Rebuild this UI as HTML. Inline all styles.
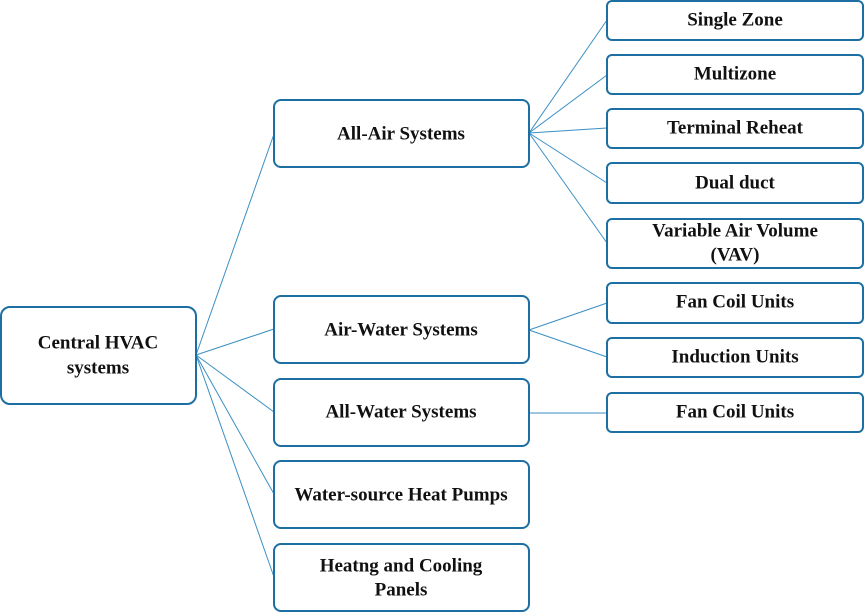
<!DOCTYPE html>
<html><head><meta charset="utf-8"><style>
html,body{margin:0;padding:0;background:#fff;width:864px;height:613px;overflow:hidden}
text{font-family:"Liberation Serif",serif;font-weight:bold;font-size:19px;fill:#111;text-anchor:middle;dominant-baseline:central}
rect{fill:#fff;stroke:#1d6fa3;stroke-width:2}
line{stroke:#3a8fc4;stroke-width:1}
</style></head><body>
<svg width="864" height="613" viewBox="0 0 864 613">
<g>
<line x1="196" y1="355" x2="274" y2="134"/>
<line x1="196" y1="355" x2="274" y2="329"/>
<line x1="196" y1="355" x2="274" y2="412"/>
<line x1="196" y1="355" x2="274" y2="494"/>
<line x1="196" y1="355" x2="274" y2="577"/>
<line x1="529" y1="133" x2="607" y2="20"/>
<line x1="529" y1="133" x2="607" y2="75"/>
<line x1="529" y1="133" x2="607" y2="128"/>
<line x1="529" y1="133" x2="607" y2="183"/>
<line x1="529" y1="133" x2="607" y2="243"/>
<line x1="529" y1="330" x2="607" y2="303"/>
<line x1="529" y1="330" x2="607" y2="357"/>
<line x1="529" y1="413" x2="607" y2="413"/>
</g>
<rect x="1" y="307" width="195" height="97" rx="9"/>
<text x="98" y="343">Central HVAC</text><text x="98" y="368">systems</text>
<rect x="274" y="100" width="255" height="67" rx="7"/><text x="401" y="134">All-Air Systems</text>
<rect x="274" y="296" width="255" height="67" rx="7"/><text x="401" y="330">Air-Water Systems</text>
<rect x="274" y="379" width="255" height="67" rx="7"/><text x="401" y="412">All-Water Systems</text>
<rect x="274" y="461" width="255" height="67" rx="7"/><text x="401" y="495">Water-source Heat Pumps</text>
<rect x="274" y="544" width="255" height="67" rx="7"/><text x="401" y="566">Heatng and Cooling</text><text x="401" y="590">Panels</text>
<rect x="607" y="1" width="256" height="39" rx="5"/><text x="735" y="20">Single Zone</text>
<rect x="607" y="55" width="256" height="39" rx="5"/><text x="735" y="74">Multizone</text>
<rect x="607" y="109" width="256" height="39" rx="5"/><text x="735" y="128">Terminal Reheat</text>
<rect x="607" y="163" width="256" height="40" rx="5"/><text x="735" y="183">Dual duct</text>
<rect x="607" y="219" width="256" height="49" rx="5"/><text x="735" y="231">Variable Air Volume</text><text x="735" y="255">(VAV)</text>
<rect x="607" y="283" width="256" height="40" rx="5"/><text x="735" y="302">Fan Coil Units</text>
<rect x="607" y="338" width="256" height="39" rx="5"/><text x="735" y="357">Induction Units</text>
<rect x="607" y="393" width="256" height="39" rx="5"/><text x="735" y="412">Fan Coil Units</text>
</svg>
</body></html>
